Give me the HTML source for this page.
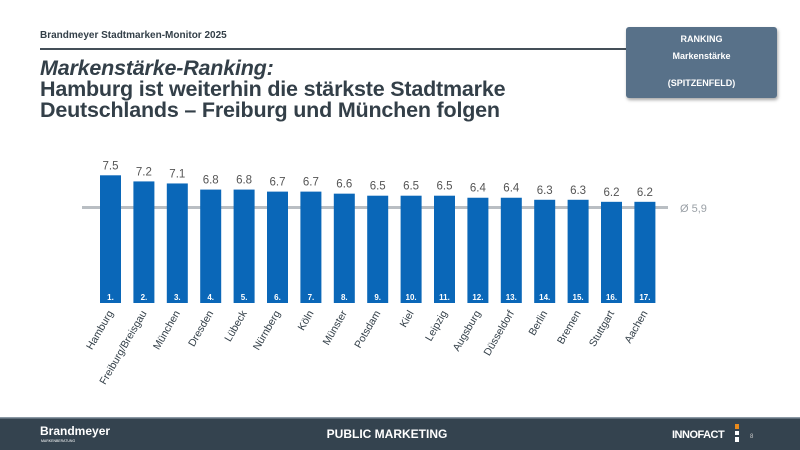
<!DOCTYPE html>
<html><head><meta charset="utf-8"><style>
body{margin:0;width:800px;height:450px;position:relative;background:#fff;font-family:"Liberation Sans",sans-serif;overflow:hidden}
.t{position:absolute;color:#333f48}
</style></head><body>
<div class="t" style="left:40px;top:30px;font-size:10px;font-weight:bold">Brandmeyer Stadtmarken-Monitor 2025</div>
<div style="position:absolute;left:40px;top:48px;width:590px;height:1.5px;background:#444f58"></div>
<div class="t" style="left:40px;top:58px;font-size:21.5px;font-weight:bold;line-height:21px;letter-spacing:-0.2px"><i>Markenstärke-Ranking:</i><br>Hamburg ist weiterhin die stärkste Stadtmarke<br>Deutschlands – Freiburg und München folgen</div>
<div style="position:absolute;left:626px;top:27px;width:151px;height:71px;background:#587189;border-radius:3px;box-shadow:1px 2px 3px rgba(0,0,0,.35);color:#fff;font-size:9px;font-weight:bold;text-align:center">
<div style="margin-top:7px">RANKING</div><div style="margin-top:7px">Markenstärke</div><div style="margin-top:17px">(SPITZENFELD)</div></div>
<svg width="800" height="450" style="position:absolute;left:0;top:0" font-family="Liberation Sans, sans-serif">
<line x1="82" y1="207.5" x2="668" y2="207.5" stroke="#b9bec3" stroke-width="3"/>
<text x="680" y="212" font-size="11" fill="#9aa0a6">Ø 5,9</text>
<g id="bars"></g>
<rect x="0" y="417" width="800" height="33" fill="#34434f"/>
<rect x="0" y="417" width="800" height="1.5" fill="#8a98a4"/>
<text x="40" y="435" font-size="12" font-weight="bold" fill="#fff">Brandmeyer</text>
<text x="41" y="442" font-size="3.5" fill="#fff">MARKENBERATUNG</text>
<text x="387" y="438" font-size="12" font-weight="bold" fill="#fff" text-anchor="middle">PUBLIC MARKETING</text>
<text x="672" y="438" font-size="11" font-weight="bold" fill="#fff" letter-spacing="-0.5">INNOFACT</text>
<rect x="735" y="424" width="4" height="5" fill="#e98a1c"/><rect x="735" y="431" width="4" height="4" fill="#fff"/><rect x="735" y="437" width="4" height="5" fill="#fff"/>
<text x="750" y="438" font-size="6" fill="#ccc">8</text>
</svg>
<script>
var d=[["Hamburg",7.5],["Freiburg/Breisgau",7.2],["München",7.1],["Dresden",6.8],["Lübeck",6.8],["Nürnberg",6.7],["Köln",6.7],["Münster",6.6],["Potsdam",6.5],["Kiel",6.5],["Leipzig",6.5],["Augsburg",6.4],["Düsseldorf",6.4],["Berlin",6.3],["Bremen",6.3],["Stuttgart",6.2],["Aachen",6.2]];
var s="";
d.forEach(function(e,i){var x=100+33.4*i,top=175.3+(7.5-e[1])*20.4,c=x+10.5;
s+='<rect x="'+x+'" y="'+top+'" width="21" height="'+(303-top)+'" fill="#0a67b8"/>';
s+='<text x="'+c+'" y="'+(top-6)+'" font-size="11.5" fill="#555" text-anchor="middle">'+e[1].toFixed(1)+'</text>';
s+='<text x="'+c+'" y="300" font-size="8" font-weight="bold" fill="#fff" text-anchor="middle">'+(i+1)+'.</text>';
s+='<text transform="translate('+(c+3)+',313) rotate(-60)" font-size="10.5" fill="#333f48" text-anchor="end">'+e[0]+'</text>';});
document.getElementById("bars").innerHTML=s;
</script>
</body></html>
